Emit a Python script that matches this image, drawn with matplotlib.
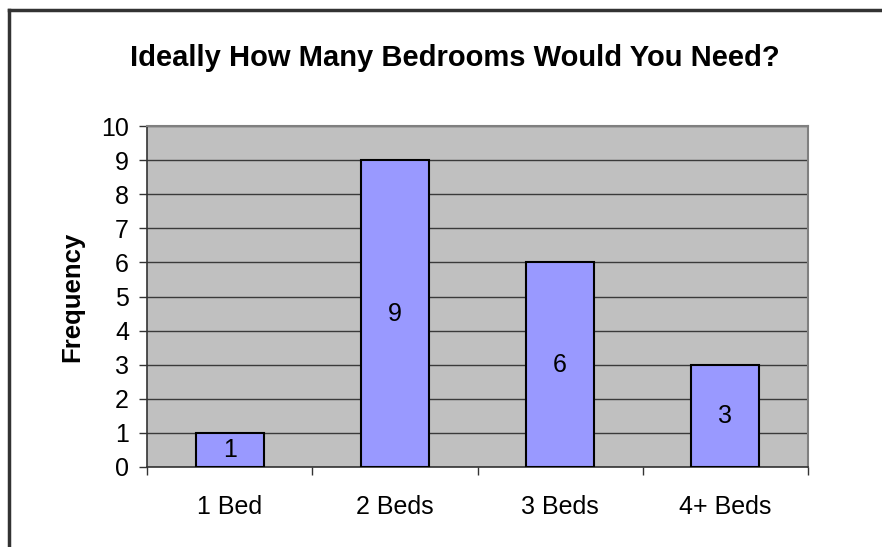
import matplotlib.pyplot as plt
import numpy as np

categories = ['1 Bed', '2 Beds', '3 Beds', '4+ Beds']
frequency = [1, 9, 6, 3]

plt.rcParams['font.family'] = ['Liberation Sans', 'DejaVu Sans']

fig = plt.figure(figsize=(8.82, 5.47), dpi=100)
ax = fig.add_axes([147 / 882, 80 / 547, 661 / 882, 341 / 547])

# chart area border (only left and top visible in the crop)
fig.add_artist(plt.Line2D([9 / 882, 9 / 882], [0, 1 - 10 / 547], color='#333333', lw=2.5, transform=fig.transFigure))
fig.add_artist(plt.Line2D([9 / 882, 1], [1 - 10 / 547, 1 - 10 / 547], color='#333333', lw=2.5, transform=fig.transFigure))

x = np.arange(len(categories))
ax.set_facecolor('#C0C0C0')
ax.set_axisbelow(True)
ax.yaxis.grid(True, color='#3a3a3a', lw=1)
bars = ax.bar(x, frequency, width=0.41, color='#9999FF', edgecolor='black', lw=1.5, zorder=3)

for xi, v in zip(x, frequency):
    ax.text(xi, v / 2, str(v), ha='center', va='center', fontsize=18, zorder=4)

ax.set_xlim(-0.5, len(categories) - 0.5)
ax.set_ylim(0, 10)
ax.set_yticks(range(0, 11))
ax.tick_params(axis='y', length=6, width=1, color='#333333', labelsize=18, pad=7)

ax.set_xticks(np.arange(-0.5, len(categories), 1))
ax.set_xticklabels([])
ax.set_xticks(x, minor=True)
ax.set_xticklabels(categories, minor=True, fontsize=18)
ax.tick_params(axis='x', which='major', length=6, width=1, color='#333333')
ax.tick_params(axis='x', which='minor', length=0, pad=20)

for side in ['left', 'bottom']:
    ax.spines[side].set_color('#333333')
    ax.spines[side].set_linewidth(1.2)
for side in ['top', 'right']:
    ax.spines[side].set_color('#808080')
    ax.spines[side].set_linewidth(1.5)

ax.set_ylabel('Frequency', fontsize=18.5, fontweight='bold', labelpad=12)
fig.text(455 / 882, 1 - 58 / 547, 'Ideally How Many Bedrooms Would You Need?',
         ha='center', va='center', fontsize=21, fontweight='bold')

fig.savefig('out.png', dpi=100)
